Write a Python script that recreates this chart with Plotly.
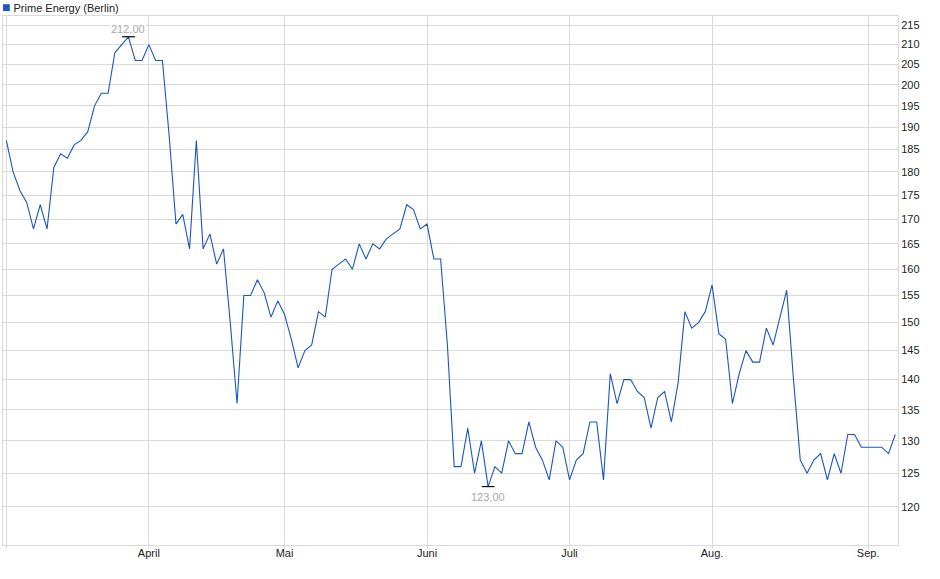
import numpy as np
import plotly.graph_objects as go

# Daily closing prices (Berlin), one value per trading session
prices = [
    187, 180, 176, 173.5, 168, 173, 168, 181, 184, 183,
    186, 187, 189, 195, 198, 198, 208, 210, 212, 206,
    206, 210, 206, 206, 188, 169, 171, 164, 187, 164,
    167, 161, 164, 150, 136, 155, 155, 158, 155.5, 151,
    154, 151.5, 147, 142, 145, 146, 152, 151, 160, 161,
    162, 160, 165, 162, 165, 164, 166, 167, 168, 173,
    172, 168, 169, 162, 162, 146, 126, 126, 132, 125,
    130, 123, 126, 125, 130, 128, 128, 133, 129, 127,
    124, 130, 129, 124, 127, 128, 133, 133, 124, 141,
    136, 140, 140, 138, 137, 132, 137, 138, 133, 139.5,
    152, 149, 150, 152, 157, 148, 147, 136, 141, 145,
    143, 143, 149, 146, 151, 156, 140, 127, 125, 127,
    128, 124, 128, 125, 131, 131, 129, 129, 129, 129,
    128, 131,
]
sessions = list(range(len(prices)))

# First trading session of each month and its label
month_start_session = [0, 21, 41, 62, 83, 104, 127]
month_labels = ["", "April", "Mai", "Juni", "Juli", "Aug.", "Sep."]

y_ticks = list(range(120, 216, 5))

series_name = "Prime Energy (Berlin)"
line_color = "#1a56c2"
grid_color = "#dadada"
font_family = "Liberation Sans, Arial, sans-serif"

p = np.array(prices, dtype=float)
i_max = int(np.argmax(p))
i_min = int(np.argmin(p))

fig = go.Figure()
fig.add_trace(go.Scatter(
    x=sessions, y=prices, mode="lines",
    line=dict(color=line_color, width=1.1),
    name=series_name, showlegend=False, hoverinfo="x+y",
))
# high / low markers
fig.add_trace(go.Scatter(
    x=[sessions[i_max], sessions[i_min]], y=[prices[i_max], prices[i_min]],
    mode="markers",
    marker=dict(symbol="line-ew", size=9, line=dict(color="#000000", width=1.2)),
    showlegend=False, hoverinfo="skip",
))

def fmt(v):
    return f"{v:.2f}".replace(".", ",")

annotations = [
    dict(x=sessions[i_max], y=np.log10(prices[i_max]), xref="x", yref="y",
         text=fmt(prices[i_max]), showarrow=False, yshift=8,
         bgcolor="white", borderpad=0,
         font=dict(family=font_family, size=11, color="#a9a9a9")),
    dict(x=sessions[i_min], y=np.log10(prices[i_min]), xref="x", yref="y",
         text=fmt(prices[i_min]), showarrow=False, yshift=-10,
         bgcolor="white", borderpad=0,
         font=dict(family=font_family, size=11, color="#a9a9a9")),
    dict(x=0, y=1, xref="paper", yref="paper", xanchor="left", yanchor="bottom",
         yshift=0, xshift=-2, showarrow=False, borderpad=0,
         text=(f'<span style="color:{line_color};font-size:14px">■</span>'
               f' {series_name}'),
         font=dict(family=font_family, size=11, color="#222222")),
]

fig.update_layout(
    width=940, height=579,
    margin=dict(l=3, r=42, t=16, b=34),
    paper_bgcolor="white", plot_bgcolor="white",
    font=dict(family=font_family, size=11, color="#222222"),
    annotations=annotations,
    showlegend=False,
)
fig.update_xaxes(
    range=[-0.49, len(prices) - 0.6],
    tickmode="array", tickvals=month_start_session, ticktext=month_labels,
    showgrid=True, gridcolor=grid_color, gridwidth=1,
    showline=True, linecolor=grid_color, linewidth=1, mirror=True,
    ticks="outside", ticklen=3, tickcolor=grid_color,
    ticklabelstandoff=-5,
    zeroline=False, tickfont=dict(size=11, color="#222222"),
)
fig.update_yaxes(
    type="log", side="right",
    range=[np.log10(114.6), np.log10(217.4)],
    tickmode="array", tickvals=y_ticks, ticktext=[str(v) for v in y_ticks],
    showgrid=True, gridcolor=grid_color, gridwidth=1,
    showline=True, linecolor=grid_color, linewidth=1, mirror=True,
    ticks="", zeroline=False, tickfont=dict(size=11, color="#222222"),
)

fig.write_html(
    "out.html",
    config={"displayModeBar": False},
    post_script="document.body.style.margin='0';document.body.style.overflow='hidden';",
)
